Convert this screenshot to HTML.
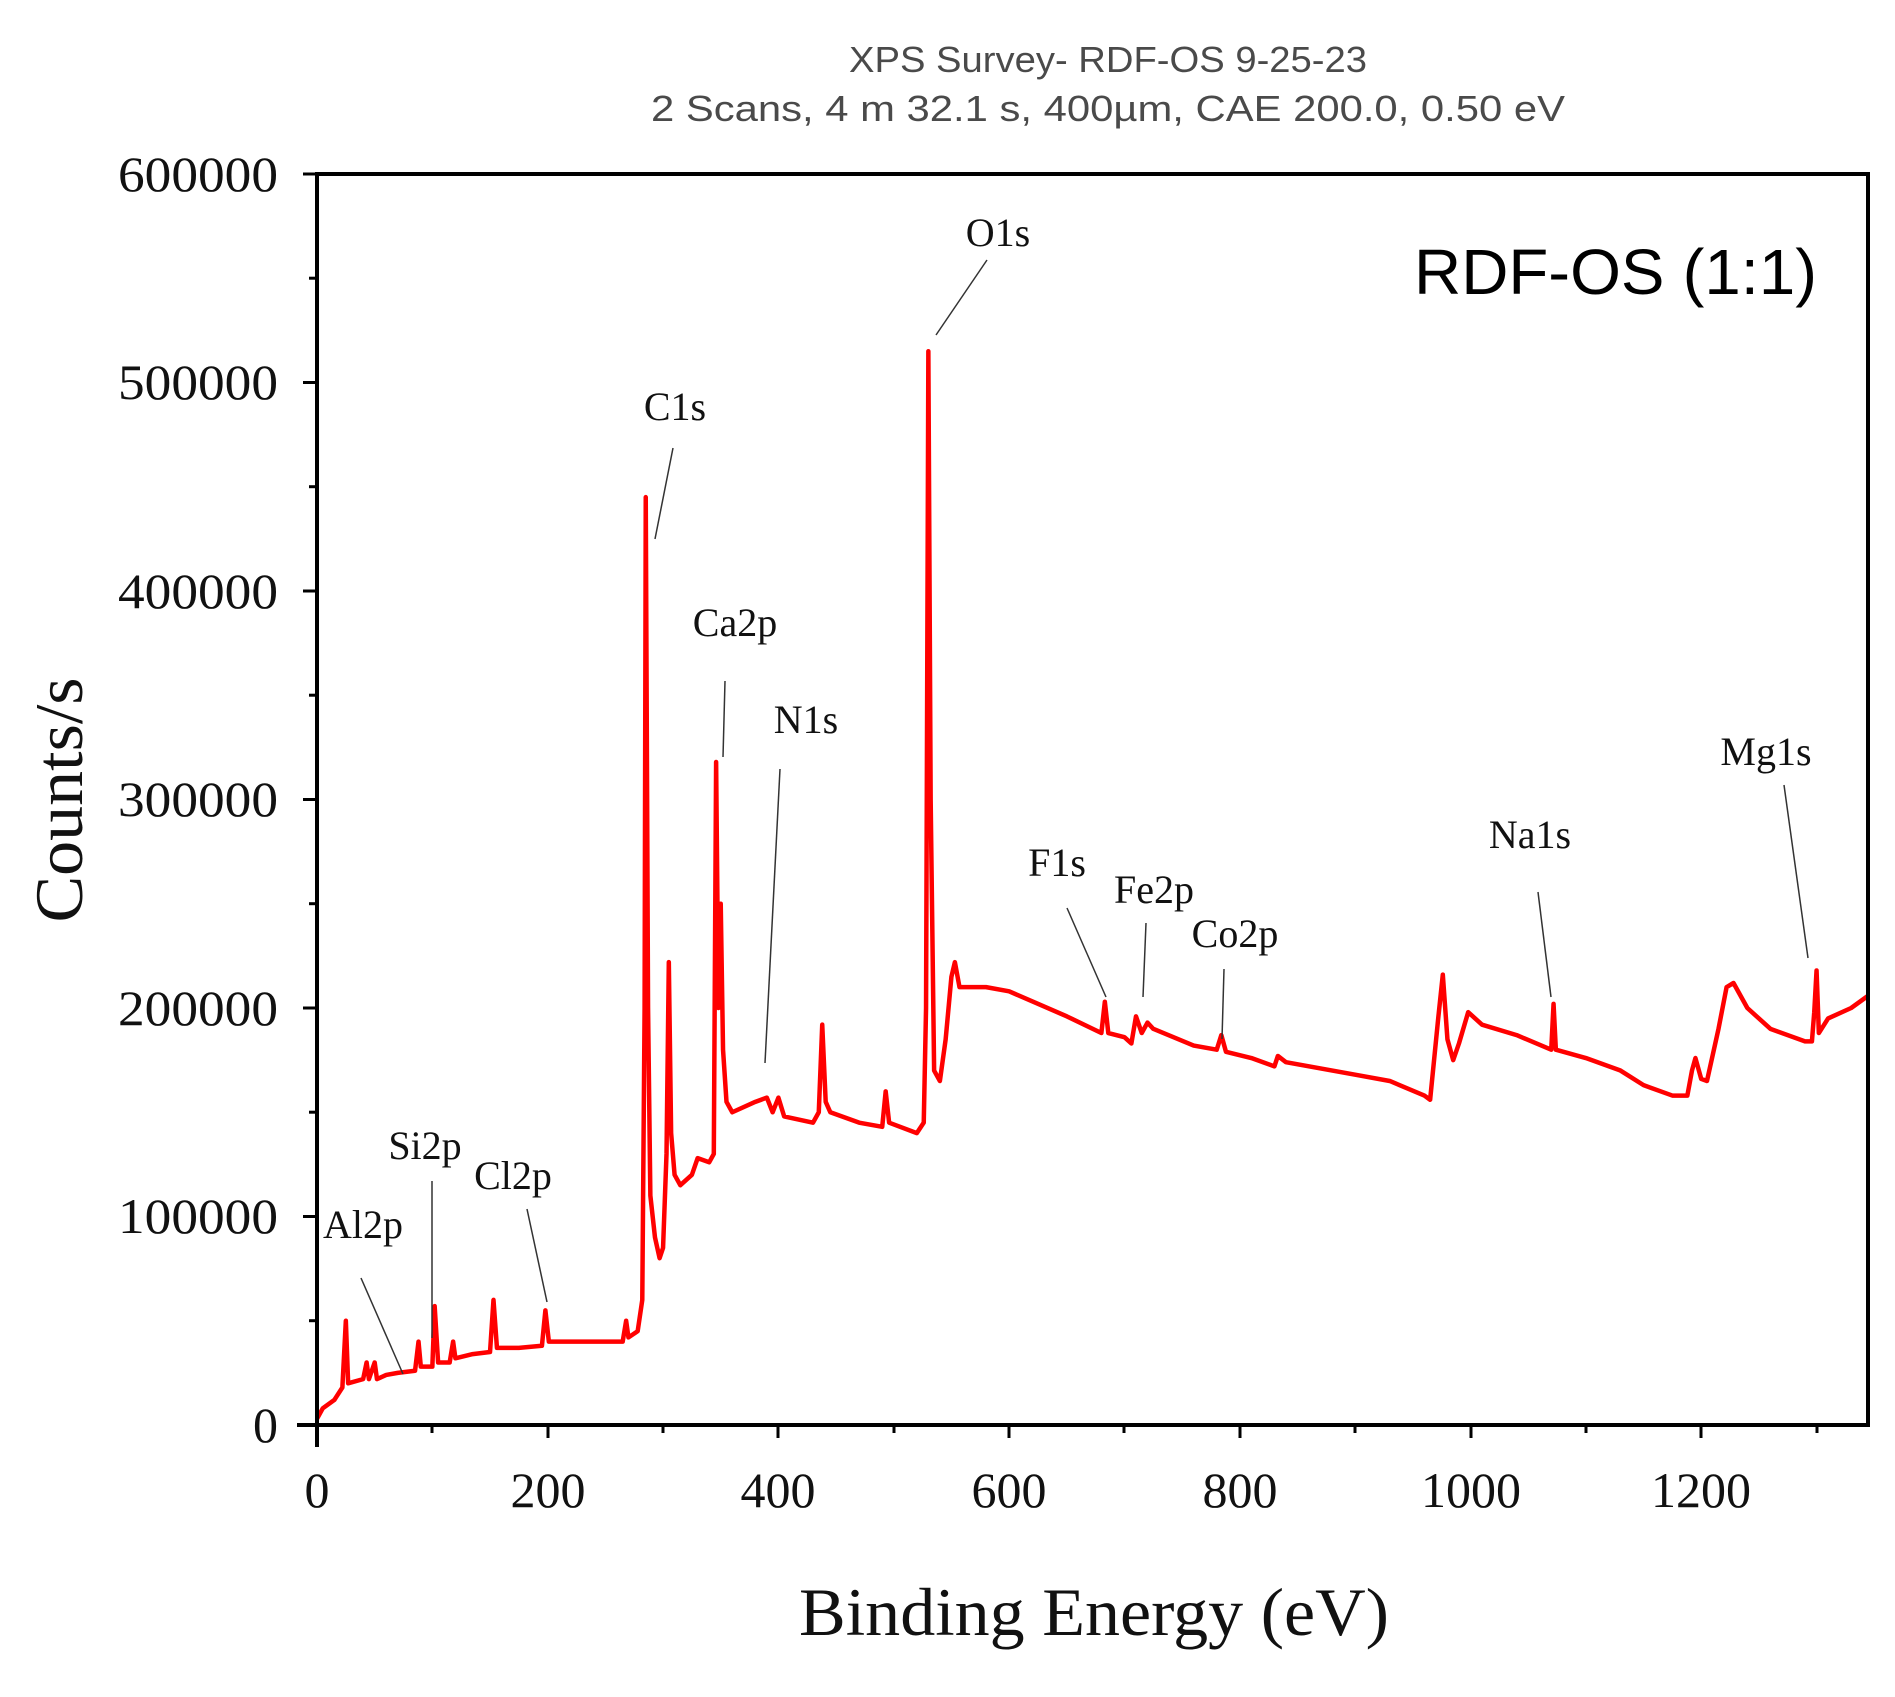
<!DOCTYPE html>
<html><head><meta charset="utf-8"><style>
html,body{margin:0;padding:0;background:#fff}
svg{display:block}
.t{font-family:"Liberation Serif",serif;fill:#111}
</style></head><body>
<svg width="1895" height="1697" viewBox="0 0 1895 1697" xmlns="http://www.w3.org/2000/svg">
<text x="1108" y="72" font-family="Liberation Sans,sans-serif" font-size="36" fill="#4a4a4a" text-anchor="middle" textLength="518" lengthAdjust="spacingAndGlyphs">XPS Survey- RDF-OS 9-25-23</text>
<text x="1108" y="121" font-family="Liberation Sans,sans-serif" font-size="36" fill="#4a4a4a" text-anchor="middle" textLength="914" lengthAdjust="spacingAndGlyphs">2 Scans,  4 m 32.1 s,  400µm,  CAE 200.0,  0.50 eV</text>

<g transform="translate(317,1425) scale(1.1535,-2.085)">
<polyline fill="none" stroke="#f00" stroke-width="4.5" vector-effect="non-scaling-stroke" stroke-linejoin="round" points="0,3 5,8 15,12 22,18 25,50 27,20 40,22 43,30 45,22 50,30 52,22 60,24 70,25 85,26 88,40 90,28 100,28 102,57 105,30 115,30 118,40 120,32 135,34 150,35 153,60 156,37 175,37 195,38 198,55 201,40 230,40 265,40 268,50 270,42 278,45 282,60 284,200 285,445 287,200 289,110 293,90 297,80 300,85 303,130 305,222 307,140 310,120 315,115 325,120 330,128 340,126 344,130 346,318 348,200 350,250 352,180 355,155 360,150 380,155 390,157 395,150 400,157 405,148 430,145 435,150 438,192 441,155 445,150 470,145 490,143 493,160 496,145 520,140 526,145 528,200 530,515 532,300 535,170 540,165 545,185 550,215 553,222 557,210 580,210 600,208 625,202 650,196 680,188 683,203 686,188 700,186 706,183 710,196 715,188 720,193 725,190 760,182 780,180 784,187 788,179 810,176 830,172 833,177 840,174 870,171 900,168 930,165 960,158 965,156 972,195 976,216 980,185 985,175 990,183 998,198 1010,192 1040,187 1070,180 1072,202 1074,180 1100,176 1130,170 1150,163 1175,158 1188,158 1192,170 1195,176 1200,166 1205,165 1215,190 1222,210 1228,212 1240,200 1260,190 1290,184 1296,184 1298,198 1300,218 1302,188 1310,195 1330,200 1345,206"/>
</g>

<g stroke="#000" stroke-width="4" fill="none">
<rect x="317" y="174" width="1551" height="1251"/>
<line x1="317" y1="1425" x2="317" y2="1447"/>
<line x1="297" y1="1425" x2="317" y2="1425"/>
</g>
<g stroke="#000" stroke-width="3">
<line x1="548" y1="1425" x2="548" y2="1438"/><line x1="778" y1="1425" x2="778" y2="1438"/><line x1="1009" y1="1425" x2="1009" y2="1438"/><line x1="1240" y1="1425" x2="1240" y2="1438"/><line x1="1471" y1="1425" x2="1471" y2="1438"/><line x1="1701" y1="1425" x2="1701" y2="1438"/>
<line x1="432" y1="1425" x2="432" y2="1433"/><line x1="663" y1="1425" x2="663" y2="1433"/><line x1="894" y1="1425" x2="894" y2="1433"/><line x1="1124" y1="1425" x2="1124" y2="1433"/><line x1="1355" y1="1425" x2="1355" y2="1433"/><line x1="1586" y1="1425" x2="1586" y2="1433"/><line x1="1817" y1="1425" x2="1817" y2="1433"/>
<line x1="303" y1="1216.5" x2="317" y2="1216.5"/><line x1="303" y1="1008" x2="317" y2="1008"/><line x1="303" y1="799.5" x2="317" y2="799.5"/><line x1="303" y1="591" x2="317" y2="591"/><line x1="303" y1="382.5" x2="317" y2="382.5"/><line x1="303" y1="174" x2="317" y2="174"/>
<line x1="309" y1="1320.7" x2="317" y2="1320.7"/><line x1="309" y1="1112.2" x2="317" y2="1112.2"/><line x1="309" y1="903.7" x2="317" y2="903.7"/><line x1="309" y1="695.2" x2="317" y2="695.2"/><line x1="309" y1="486.7" x2="317" y2="486.7"/><line x1="309" y1="278.2" x2="317" y2="278.2"/>
</g>
<g class="t" font-size="50" text-anchor="end">
<text x="278" y="1442">0</text>
<text x="278" y="1233" textLength="160" lengthAdjust="spacingAndGlyphs">100000</text>
<text x="278" y="1025" textLength="160" lengthAdjust="spacingAndGlyphs">200000</text>
<text x="278" y="816" textLength="160" lengthAdjust="spacingAndGlyphs">300000</text>
<text x="278" y="608" textLength="160" lengthAdjust="spacingAndGlyphs">400000</text>
<text x="278" y="399" textLength="160" lengthAdjust="spacingAndGlyphs">500000</text>
<text x="278" y="191" textLength="160" lengthAdjust="spacingAndGlyphs">600000</text>
</g>
<g class="t" font-size="50" text-anchor="middle">
<text x="317" y="1507">0</text><text x="548" y="1507">200</text><text x="778" y="1507">400</text><text x="1009" y="1507">600</text><text x="1240" y="1507">800</text><text x="1471" y="1507">1000</text><text x="1701" y="1507">1200</text>
</g>
<text class="t" font-size="68" text-anchor="middle" transform="translate(82,800) rotate(-90)" textLength="245" lengthAdjust="spacingAndGlyphs">Counts/s</text>
<text class="t" font-size="68" text-anchor="middle" x="1094" y="1635" textLength="590" lengthAdjust="spacingAndGlyphs">Binding Energy (eV)</text>
<text x="1414" y="294" font-family="Liberation Sans,sans-serif" font-size="64" fill="#000" textLength="403" lengthAdjust="spacingAndGlyphs">RDF-OS (1:1)</text>

<g class="t" font-size="40" text-anchor="middle">
<text x="998" y="246">O1s</text><text x="675" y="420">C1s</text><text x="735" y="636">Ca2p</text><text x="806" y="733">N1s</text>
<text x="1057" y="876">F1s</text><text x="1154" y="903">Fe2p</text><text x="1235" y="947">Co2p</text><text x="1530" y="848">Na1s</text>
<text x="1766" y="765">Mg1s</text><text x="425" y="1159">Si2p</text><text x="513" y="1189">Cl2p</text><text x="363" y="1238">Al2p</text>
</g>
<g stroke="#333" stroke-width="1.5">
<line x1="987" y1="260" x2="936" y2="335"/><line x1="673" y1="448" x2="655" y2="539"/><line x1="725" y1="681" x2="723" y2="757"/><line x1="780" y1="769" x2="765" y2="1063"/>
<line x1="1067" y1="908" x2="1106" y2="997"/><line x1="1146" y1="923" x2="1143" y2="997"/><line x1="1224" y1="969" x2="1222" y2="1039"/><line x1="1538" y1="892" x2="1551" y2="997"/>
<line x1="1784" y1="785" x2="1808" y2="958"/><line x1="432" y1="1181" x2="432" y2="1338"/><line x1="527" y1="1209" x2="547" y2="1302"/><line x1="361" y1="1278" x2="403" y2="1374"/>
</g>
</svg>
</body></html>
